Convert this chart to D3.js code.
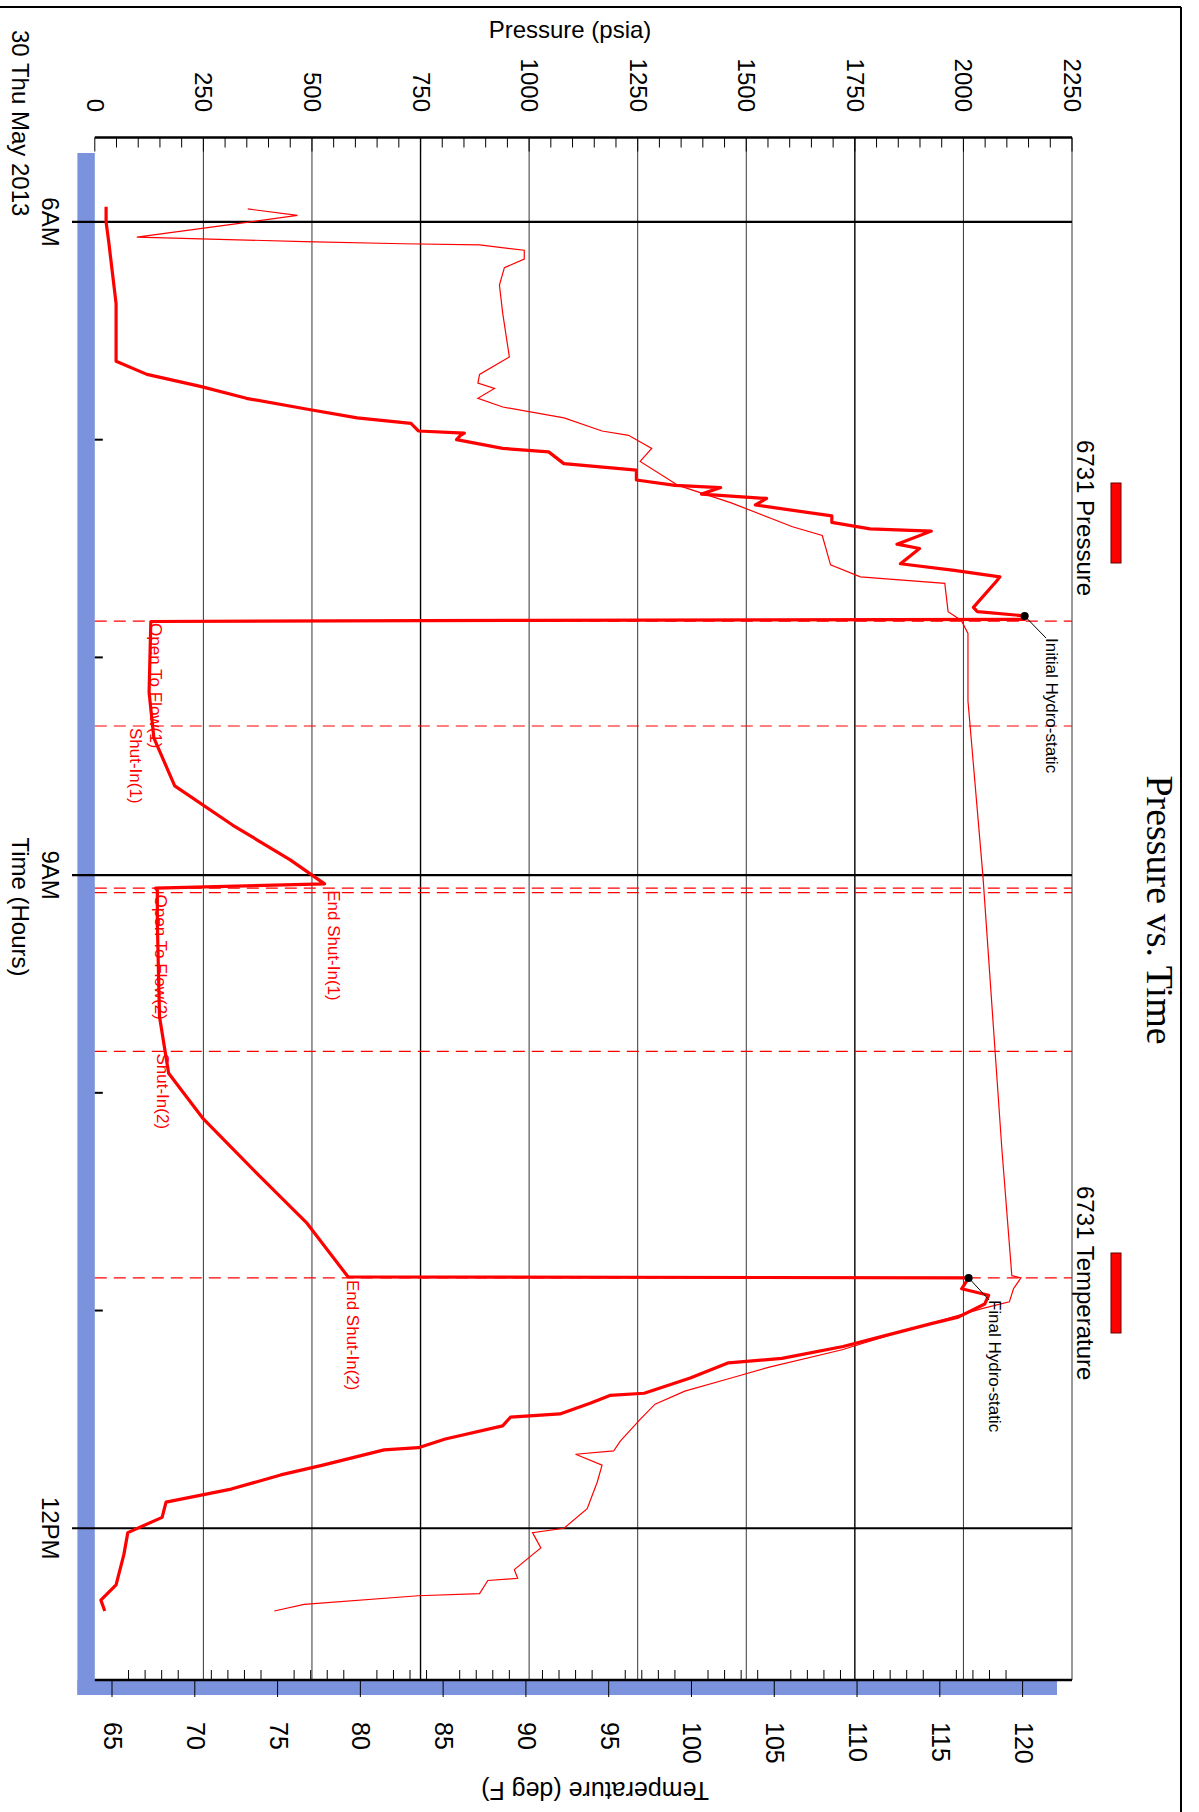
<!DOCTYPE html>
<meta charset="utf-8">
<script src="https://cdn.jsdelivr.net/npm/d3@7"></script>
<body style="margin:0;background:#fff">
<script>
// hours since midnight, psia
const pressureHours = [5.93,6.0,6.09,6.375,6.64,6.70,6.755,6.81,6.86,6.90,6.925,6.96,6.97,6.98,7.0,7.04,7.056,7.11,7.14,7.185,7.21,7.22,7.25,7.27,7.30,7.35,7.38,7.41,7.42,7.48,7.50,7.57,7.60,7.63,7.65,7.77,7.79,7.81,7.825,7.83,7.835,
  8.16,8.37,8.59,8.77,8.93,9.04,9.06,9.07,9.22,9.65,9.91,10.12,10.39,10.6,10.845,10.85,
  10.90,10.93,10.97,11.03,11.06,11.12,11.165,11.22,11.24,11.31,11.38,11.39,11.425,11.475,11.49,11.53,11.59,11.63,11.64,11.71,11.755,11.82,11.88,11.95,12.02,12.12,12.26,12.33,12.38];
const pressureValues = [26,26,32,49,49,120,243,349,490,604,728,745,851,842,833,939,1045,1080,1247,1247,1336,1441,1397,1547,1521,1697,1697,1785,1926,1847,1899,1855,1979,2084,2076,2023,2032,2146,2141,1000,129,
  125,136,184,317,450,529,140,144,144,149,170,250,383,489,583,2012,
  1996,2058,2049,1988,1926,1811,1723,1582,1459,1371,1265,1186,1142,1071,957,939,807,745,666,525,428,314,164,155,76,67,49,14,23];
const tempHours = [5.94,5.97,6.07,6.09,6.10,6.105,6.13,6.17,6.21,6.29,6.42,6.62,6.70,6.74,6.765,6.81,6.85,6.90,6.96,6.98,7.04,7.10,7.21,7.29,7.40,7.44,7.575,7.63,7.66,7.79,7.83,7.89,8.20,9.0,10.26,10.84,10.85,10.90,10.96,10.99,11.06,11.10,11.18,11.26,11.31,11.37,11.43,11.50,11.60,11.645,11.66,11.71,11.79,11.91,12.0,12.02,12.09,12.19,12.23,12.24,12.30,12.31,12.35,12.38];
const tempValues = [73.2,76.2,66.5,76.6,82.6,87.2,89.9,89.9,88.7,88.4,88.6,89.0,87.2,87.1,88.1,87.1,88.6,92.3,94.6,96.2,97.6,96.9,99.2,102.4,106.1,107.9,108.4,110.2,115.3,115.5,116.3,116.7,116.7,117.6,118.75,119.35,119.9,119.45,119.2,117.6,114.4,112.5,109.1,104.7,102.4,99.6,97.8,96.9,95.7,95.3,93.0,94.6,94.3,93.7,92.3,90.4,90.9,89.3,89.5,87.7,87.2,83.5,76.6,74.8];
const events = [
  {h: 7.833, label: "Open To Flow(1)", dx: 150},
  {h: 8.315, label: "Shut-In(1)", dx: 130},
  {h: 9.06, label: "End Shut-In(1)", dx: 328},
  {h: 9.08, label: "Open To Flow(2)", dx: 155},
  {h: 9.81, label: "Shut-In(2)", dx: 157},
  {h: 10.85, label: "End Shut-In(2)", dx: 347}
];
const pressureTicks = d3.range(0, 2251, 250);
const tempTicks = d3.range(65, 121, 5);
const timeMajor = [{h: 6, label: "6AM"}, {h: 9, label: "9AM"}, {h: 12, label: "12PM"}];
const hydro = [{h: 7.81, p: 2141, label: "Initial Hydro-static", lx: 1046}, {h: 10.85, p: 2012, label: "Final Hydro-static", lx: 989}];

const W = 1199, H = 1812;
const svg = d3.select(document.body).append('svg').attr('width', W).attr('height', H)
  .style('font-family', 'Liberation Sans, Arial, sans-serif');

const plotTop = 137.5, plotBottom = 1680, plotLeft = 94.8, plotRight = 1072;
const y = d3.scaleLinear().domain([5.612, 12.697]).range([plotTop, plotBottom]);
const xp = d3.scaleLinear().domain([0, 2250]).range([plotLeft, plotRight]);
const xt = d3.scaleLinear().domain([65, 120]).range([112, 1022.6]);

// frame
svg.append('line').attr('x1', 0).attr('x2', 1181).attr('y1', 7).attr('y2', 7).attr('stroke', '#000').attr('stroke-width', 2);
svg.append('line').attr('x1', 1181).attr('x2', 1181).attr('y1', 7).attr('y2', H).attr('stroke', '#000').attr('stroke-width', 2);

// blue bars
svg.append('rect').attr('x', 77.4).attr('y', 153).attr('width', plotLeft - 77.4).attr('height', 1695 - 153).attr('fill', '#7b93dc');
svg.append('rect').attr('x', 77.4).attr('y', plotBottom).attr('width', 1057 - 77.4).attr('height', 1695 - plotBottom).attr('fill', '#7b93dc');

// pressure grid
svg.selectAll('.pg').data(pressureTicks.slice(1)).join('line')
  .attr('x1', d => xp(d)).attr('x2', d => xp(d)).attr('y1', plotTop).attr('y2', plotBottom)
  .attr('stroke', '#000').attr('stroke-width', d => d % 1000 === 750 ? 1.4 : 0.8);

// time major lines
svg.selectAll('.tm').data(timeMajor).join('line')
  .attr('x1', 72).attr('x2', plotRight).attr('y1', d => y(d.h)).attr('y2', d => y(d.h))
  .attr('stroke', '#000').attr('stroke-width', 2.2);
svg.selectAll('.tmin').data([7, 8, 10, 11]).join('line')
  .attr('x1', plotLeft).attr('x2', plotLeft + 8).attr('y1', d => y(d)).attr('y2', d => y(d))
  .attr('stroke', '#000').attr('stroke-width', 2);

// top pressure axis
svg.append('line').attr('x1', plotLeft).attr('x2', plotRight).attr('y1', plotTop).attr('y2', plotTop).attr('stroke', '#000').attr('stroke-width', 2.5);
svg.selectAll('.pt').data(d3.range(0, 2251, 50)).join('line')
  .attr('x1', d => xp(d)).attr('x2', d => xp(d)).attr('y1', plotTop).attr('y2', d => plotTop + (d % 250 === 0 ? 14 : 10))
  .attr('stroke', '#000').attr('stroke-width', 1);
svg.selectAll('.pl').data(pressureTicks).join('text')
  .attr('transform', d => `translate(${xp(d) - 8},112) rotate(90)`)
  .attr('text-anchor', 'end').attr('font-size', 24).text(d => d);
svg.append('text').attr('x', 570).attr('y', 38).attr('text-anchor', 'middle').attr('font-size', 24).text('Pressure (psia)');

// bottom temperature axis
svg.append('line').attr('x1', plotLeft).attr('x2', plotRight).attr('y1', plotBottom).attr('y2', plotBottom).attr('stroke', '#000').attr('stroke-width', 2.5);
svg.selectAll('.tt').data(d3.range(65, 121, 1)).join('line')
  .attr('x1', d => xt(d)).attr('x2', d => xt(d))
  .attr('y1', d => d % 5 === 0 ? plotBottom + 17 : plotBottom - 10).attr('y2', plotBottom)
  .attr('stroke', '#000').attr('stroke-width', 1);
svg.selectAll('.tl').data(tempTicks).join('text')
  .attr('transform', d => `translate(${xt(d) - 8},1722) rotate(90)`)
  .attr('font-size', 25).text(d => d);
svg.append('text').attr('transform', 'translate(595,1782) rotate(180)')
  .attr('text-anchor', 'middle').attr('font-size', 25).text('Temperature (deg F)');

// time labels
svg.selectAll('.tml').data(timeMajor).join('text')
  .attr('transform', d => `translate(42,${y(d.h)}) rotate(90)`)
  .attr('text-anchor', 'middle').attr('font-size', 24).text(d => d.label);
svg.append('text').attr('transform', 'translate(12,30) rotate(90)').attr('font-size', 24).text('30 Thu May 2013');
svg.append('text').attr('transform', 'translate(12,907) rotate(90)').attr('text-anchor', 'middle').attr('font-size', 24).text('Time (Hours)');

// events
svg.selectAll('.ev').data(events).join('line')
  .attr('x1', plotLeft).attr('x2', plotRight).attr('y1', d => y(d.h)).attr('y2', d => y(d.h))
  .attr('stroke', '#f00').attr('stroke-width', 1.2).attr('stroke-dasharray', '12,7');
svg.selectAll('.evl').data(events).join('text')
  .attr('transform', d => `translate(${d.dx},${y(d.h) + 2}) rotate(90)`)
  .attr('fill', '#f00').attr('font-size', 17).text(d => d.label);

// series
const pLine = d3.line().x((d, i) => xp(pressureValues[i])).y(d => y(d));
svg.append('path').attr('d', pLine(pressureHours)).attr('fill', 'none').attr('stroke', '#f00').attr('stroke-width', 3.2).attr('stroke-linejoin', 'round');
const tLine = d3.line().x((d, i) => xt(tempValues[i])).y(d => y(d));
svg.append('path').attr('d', tLine(tempHours)).attr('fill', 'none').attr('stroke', '#f00').attr('stroke-width', 1.2);

// hydro markers
const hg = svg.selectAll('.hy').data(hydro).join('g');
hg.append('line').attr('x1', d => xp(d.p)).attr('y1', d => y(d.h)).attr('x2', d => d.lx).attr('y2', d => y(d.h) + 22).attr('stroke', '#000');
hg.append('circle').attr('cx', d => xp(d.p)).attr('cy', d => y(d.h)).attr('r', 4).attr('fill', '#000');
hg.append('text').attr('transform', d => `translate(${d.lx},${y(d.h) + 22}) rotate(90)`).attr('font-size', 17).text(d => d.label);

// legend
const legend = [{label: '6731 Pressure', y0: 440, s0: 483}, {label: '6731 Temperature', y0: 1186, s0: 1253}];
svg.selectAll('.lg').data(legend).join('text')
  .attr('transform', d => `translate(1077,${d.y0}) rotate(90)`).attr('font-size', 24).text(d => d.label);
svg.selectAll('.ls').data(legend).join('rect')
  .attr('x', 1111).attr('y', d => d.s0).attr('width', 10).attr('height', 80)
  .attr('fill', '#f00').attr('stroke', '#600').attr('stroke-width', 1);

svg.append('text').attr('transform', 'translate(1147,910) rotate(90)')
  .attr('text-anchor', 'middle').attr('font-family', 'Liberation Serif, Times New Roman, serif').attr('font-size', 38).text('Pressure vs. Time');
</script>
